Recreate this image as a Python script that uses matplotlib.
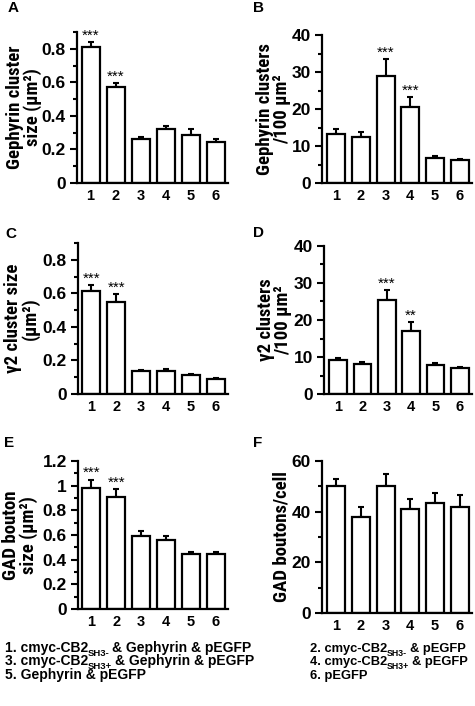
import matplotlib
matplotlib.use('Agg')
import matplotlib.pyplot as plt
from matplotlib import font_manager
from matplotlib.ticker import MultipleLocator, FormatStrFormatter
import numpy as np

plt.rcParams['font.family'] = ['Liberation Sans', 'DejaVu Sans']
plt.rcParams['font.weight'] = 'bold'

# a condensed face for the y labels, if one is around
installed = set(f.name for f in font_manager.fontManager.ttflist)
LABEL_FONT, LABEL_SIZE = ['Liberation Sans', 'DejaVu Sans'], 11
for name in ['Liberation Sans Narrow', 'Arial Narrow', 'Roboto Condensed',
             'PT Sans Narrow', 'Archivo Narrow', 'Open Sans Condensed']:
    if name in installed:
        LABEL_FONT, LABEL_SIZE = [name, 'DejaVu Sans'], 13.5
        break

groups = ['1', '2', '3', '4', '5', '6']

gephyrin_size = [0.81, 0.575, 0.265, 0.32, 0.285, 0.245]
gephyrin_size_err = [0.03, 0.02, 0.01, 0.02, 0.035, 0.02]
gephyrin_size_sig = ['***', '***', '', '', '', '']

gephyrin_density = [13.3, 12.5, 28.8, 20.5, 6.7, 6.3]
gephyrin_density_err = [1.4, 1.2, 4.8, 2.7, 0.5, 0.2]
gephyrin_density_sig = ['', '', '***', '***', '', '']

g2_size = [0.615, 0.55, 0.135, 0.14, 0.115, 0.09]
g2_size_err = [0.035, 0.045, 0.006, 0.01, 0.007, 0.006]
g2_size_sig = ['***', '***', '', '', '', '']

g2_density = [9.2, 8.2, 25.5, 17.0, 7.8, 7.1]
g2_density_err = [0.5, 0.5, 2.7, 2.5, 0.7, 0.15]
g2_density_sig = ['', '', '***', '**', '', '']

gad_size = [0.98, 0.905, 0.59, 0.56, 0.45, 0.445]
gad_size_err = [0.07, 0.065, 0.045, 0.03, 0.015, 0.015]
gad_size_sig = ['***', '***', '', '', '', '']

gad_count = [50, 38, 50, 41, 43.5, 42]
gad_count_err = [3, 3.7, 5, 4, 4, 4.5]
gad_count_sig = ['', '', '', '', '', '']

# legend rows: (prefix, subscript, rest)
legend_left = [('1. cmyc-CB2', 'SH3-', '& Gephyrin & pEGFP'),
               ('3. cmyc-CB2', 'SH3+', '& Gephyrin & pEGFP'),
               ('5. Gephyrin & pEGFP', '', '')]
legend_right = [('2. cmyc-CB2', 'SH3-', '& pEGFP'),
                ('4. cmyc-CB2', 'SH3+', '& pEGFP'),
                ('6. pEGFP', '', '')]

W, H = 475, 706
fig = plt.figure(figsize=(W / 100, H / 100), dpi=100)


def rect(left, right, top, bottom):
    return [left / W, 1 - bottom / H, (right - left) / W, (bottom - top) / H]


def panel(r, letter, letter_xy, vals, errs, sig, ylim, major, minor, ylabel, label_right, xlo):
    ax = fig.add_axes(rect(*r))
    x = np.arange(1, len(vals) + 1)
    ax.bar(x, vals, width=0.72, color='white', edgecolor='black', linewidth=1.6, zorder=2)
    ax.errorbar(x, vals, yerr=[np.zeros(len(vals)), errs], fmt='none', ecolor='black',
                elinewidth=1.5, capsize=2.5, capthick=1.5, zorder=1)
    for xi, v, e, s in zip(x, vals, errs, sig):
        if s:
            ax.text(xi, v + e - ylim * 0.005, s, ha='center', va='bottom',
                    fontsize=11, fontweight='normal')
    ax.set_xlim(xlo, 6.5)
    ax.set_ylim(0, ylim)
    ax.set_xticks(x)
    ax.set_xticklabels(groups, fontsize=10.5, fontweight='bold')
    ax.tick_params(axis='x', length=0, pad=4)
    ax.yaxis.set_major_locator(MultipleLocator(major))
    ax.yaxis.set_minor_locator(MultipleLocator(minor))
    ax.yaxis.set_major_formatter(FormatStrFormatter('%g'))
    ax.tick_params(axis='y', which='major', length=5, width=1.5, labelsize=12.5, pad=3)
    ax.tick_params(axis='y', which='minor', length=3, width=1.5)
    for lab in ax.get_yticklabels():
        lab.set_fontweight('bold')
    ax.spines['top'].set_visible(False)
    ax.spines['right'].set_visible(False)
    ax.spines['left'].set_linewidth(1.6)
    ax.spines['bottom'].set_linewidth(1.6)
    ax.set_ylabel(ylabel, fontsize=LABEL_SIZE, fontweight='bold', family=LABEL_FONT,
                  linespacing=0.95)
    # right edge of the rotated label sits at label_right (pixels)
    ax.yaxis.set_label_coords((label_right - r[0]) / (r[1] - r[0]), 0.5)
    fig.text(letter_xy[0] / W, 1 - letter_xy[1] / H, letter, fontsize=11,
             fontweight='bold', ha='center', va='center')
    return ax


panel((77, 228, 32, 183), 'A', (13, 8), gephyrin_size, gephyrin_size_err, gephyrin_size_sig,
      0.9, 0.2, 0.1, 'Gephyrin cluster\nsize (µm²)', 42, 0.46)
panel((322, 472, 35, 183), 'B', (258, 8), gephyrin_density, gephyrin_density_err,
      gephyrin_density_sig, 40, 10, 5, 'Gephyrin clusters\n/100 µm²', 291, 0.42)
panel((78, 228, 243, 394), 'C', (11, 234), g2_size, g2_size_err, g2_size_sig,
      0.9, 0.2, 0.1, 'γ2 cluster size\n(µm²)', 40, 0.46)
panel((324, 472, 246, 394), 'D', (258, 233), g2_density, g2_density_err, g2_density_sig,
      40, 10, 5, 'γ2 clusters\n/100 µm²', 292, 0.42)
panel((78, 228, 461, 609), 'E', (9, 443), gad_size, gad_size_err, gad_size_sig,
      1.2, 0.2, 0.1, 'GAD bouton\nsize (µm²)', 38, 0.46)
panel((322, 472, 461, 613), 'F', (258, 443), gad_count, gad_count_err, gad_count_sig,
      60, 20, 10, 'GAD boutons/cell', 290, 0.42)


def legend_row(x_px, y_px, parts, size):
    # main text, a lowered smaller subscript, then the rest, one after another
    renderer = fig.canvas.get_renderer()
    prefix, sub, rest = parts
    y = 1 - y_px / H
    t = fig.text(x_px / W, y, prefix, fontsize=size, fontweight='bold', va='baseline')
    if not sub:
        return
    bb = t.get_window_extent(renderer)
    s = fig.text(bb.x1 / fig.bbox.width, y - 3.5 / H, sub, fontsize=size * 0.68,
                 fontweight='bold', va='baseline')
    bb2 = s.get_window_extent(renderer)
    fig.text((bb2.x1 + 2.5) / fig.bbox.width, y, rest, fontsize=size, fontweight='bold',
             va='baseline')


for i, (lp, rp) in enumerate(zip(legend_left, legend_right)):
    base = 652 + 13.5 * i
    legend_row(5, base, lp, 10)
    legend_row(310, base, rp, 9.3)

fig.savefig('out.png', dpi=100)
